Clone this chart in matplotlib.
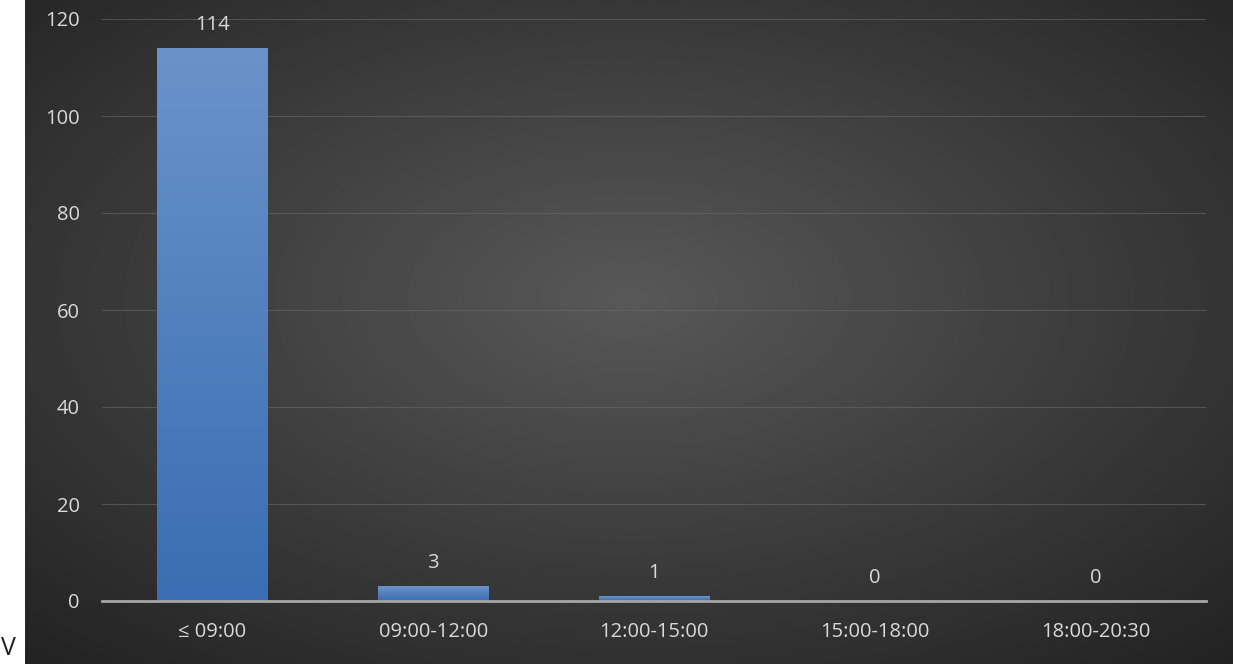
import numpy as np
import matplotlib
matplotlib.use('Agg')
import matplotlib.pyplot as plt
from matplotlib.colors import LinearSegmentedColormap

categories = ['≤ 09:00', '09:00-12:00', '12:00-15:00', '15:00-18:00', '18:00-20:30']
counts = [114, 3, 1, 0, 0]
yticks = [0, 20, 40, 60, 80, 100, 120]

plt.rcParams['font.family'] = ['Open Sans', 'DejaVu Sans']
txt = '#d9d9d9'

fig = plt.figure(figsize=(12.33, 6.64), dpi=100)
fig.patch.set_facecolor('white')

# dark radial background on the right of the white strip
bg = fig.add_axes([25 / 1233, 0, 1 - 25 / 1233, 1])
yy, xx = np.mgrid[-1:1:300j, -1:1:600j]
r = np.sqrt(xx ** 2 + (yy + 0.1) ** 2) / np.sqrt(2)
shade = 0.345 - 0.2 * r
bg.imshow(shade, cmap='gray', vmin=0, vmax=1, aspect='auto', extent=[0, 1, 0, 1])
bg.axis('off')

fig.text(1 / 1233, 3 / 664, 'V', fontsize=18, color='#222222', va='bottom')

ax = fig.add_axes([102 / 1233, 63 / 664, 1104 / 1233, 582 / 664])
ax.patch.set_alpha(0)
x = np.arange(len(categories))
bars = ax.bar(x, counts, width=0.5, color='#4f7fc0', zorder=3)

# vertical gradient inside each bar
grad = np.linspace(0, 1, 256).reshape(-1, 1)
cm = LinearSegmentedColormap.from_list('b', ['#3a6db3', '#6a93c9'])
for b in bars:
    if b.get_height() <= 0:
        continue
    im = ax.imshow(grad, cmap=cm, aspect='auto', origin='lower', zorder=4,
                   extent=[b.get_x(), b.get_x() + b.get_width(), 0, b.get_height()])
    im.set_clip_path(b)

for xi, v in zip(x, counts):
    ax.text(xi, v + 2.7, str(v), ha='center', va='bottom', color=txt, fontsize=14.5)

ax.set_xlim(-0.5, len(categories) - 0.5)
ax.set_ylim(0, 120)
ax.set_yticks(yticks)
ax.set_xticks(x)
ax.set_xticklabels(categories)
ax.tick_params(axis='both', length=0, colors=txt, labelsize=14.5)
ax.tick_params(axis='y', pad=16)
ax.tick_params(axis='x', pad=15)
ax.grid(axis='y', color='#6a6a6a', linewidth=0.8, alpha=0.6, zorder=0)
for s in ['top', 'right', 'left']:
    ax.spines[s].set_visible(False)
ax.spines['bottom'].set_color('#a6a6a6')
ax.spines['bottom'].set_linewidth(2)
ax.spines['bottom'].set_zorder(5)

fig.savefig('out.png', dpi=100)
